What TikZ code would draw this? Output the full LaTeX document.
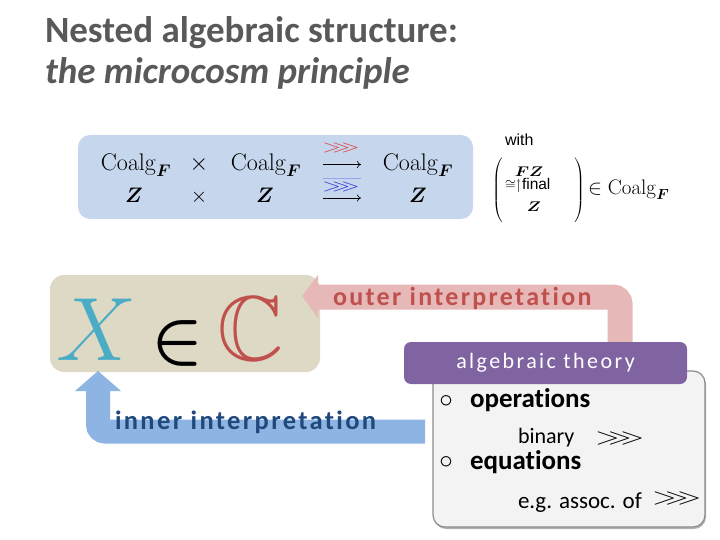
\documentclass[tikz,border=0pt]{standalone}
\usepackage{fix-cm}
\usepackage{amsmath,amssymb,bm}
\usepackage[no-math]{fontspec}
\newfontfamily\carl[Ligatures=NoCommon]{Carlito}
\newfontfamily\carlspa[LetterSpace=9,Ligatures=NoCommon]{Carlito}
\newfontfamily\carlspb[LetterSpace=11,Ligatures=NoCommon]{Carlito}
\newfontfamily\arl{Liberation Sans}
\usetikzlibrary{arrows.meta}
\definecolor{titlegray}{HTML}{595959}
\definecolor{coalgblue}{HTML}{C6D6EC}
\definecolor{tanbox}{HTML}{DDD9C4}
\definecolor{pinkband}{HTML}{E6B9B8}
\definecolor{outerred}{HTML}{C0504D}
\definecolor{blueband}{HTML}{8DB4E2}
\definecolor{innerblue}{HTML}{1F497D}
\definecolor{theorypurple}{HTML}{8064A2}
\definecolor{xteal}{HTML}{4BACC6}
\definecolor{cred}{HTML}{C0504D}
\definecolor{chevred}{HTML}{E03A3A}
\definecolor{chevblue}{HTML}{2B2BD8}
\definecolor{listfill}{HTML}{F3F3F3}
\definecolor{listborder}{HTML}{8C8C8C}
\newcommand{\fsz}[1]{\fontsize{#1}{#1}\selectfont}
\newcommand{\chevs}{$>\mkern-6.8mu>\mkern-6.8mu>$}
\begin{document}
\begin{tikzpicture}[x=1pt,y=-1pt,every node/.style={inner sep=0pt,outer sep=0pt},
  mrow/.style={anchor=base,font=\fsz{24}},
  zrow/.style={anchor=base,font=\fsz{21}},
  marrow/.style={-{To[length=4pt,width=7pt]},line width=0.6pt},
  chevnode/.style={xscale=1.35,font=\fsz{#1}},
  smallmath/.style={font=\fsz{14},xscale=1.2},
  listitem/.style={anchor=base west,font=\carl\bfseries\fsz{27}},
  listsub/.style={anchor=base west,font=\carl\fsz{22}}]
\useasboundingbox (0,0) rectangle (720,540);

% title
\node[anchor=base west,text=titlegray,font=\carl\bfseries\fsz{37}] (title1) at (45,43) {Nested algebraic structure:};
\node[anchor=base west,text=titlegray,font=\carl\bfseries\itshape\fsz{37}] (title2) at (45,84) {the microcosm principle};

% coalgebra box
\node[fill=coalgblue,rounded corners=12pt,minimum width=395pt,minimum height=84pt] (cbox) at (275.5,177) {};
\node[mrow] (c1) at (136,171) {$\mathrm{Coalg}_{\boldsymbol F}$};
\node[mrow] (x1) at (199,171) {$\times$};
\node[mrow] (c2) at (266,171) {$\mathrm{Coalg}_{\boldsymbol F}$};
\node[mrow] (c3) at (418,171) {$\mathrm{Coalg}_{\boldsymbol F}$};
\node[zrow] (z1) at (134,203) {$\boldsymbol Z$};
\node[zrow] (x2) at (199,203) {$\times$};
\node[zrow] (z2) at (265,203) {$\boldsymbol Z$};
\node[zrow] (z3) at (418,203) {$\boldsymbol Z$};
\coordinate (a1s) at (323,164.5);
\coordinate (a1e) at (361,164.5);
\coordinate (a2s) at (323,198);
\coordinate (a2e) at (361,198);
\draw[marrow] (a1s) -- (a1e);
\draw[marrow] (a2s) -- (a2e);
\node[chevnode=18,text=chevred] (ch1) at (341,148) {\chevs};
\node[chevnode=18,text=chevblue] (ch2) at (341,187) {\chevs};
\coordinate (bl1) at (323,178.5);
\coordinate (bl2) at (361,178.5);
\draw[line width=0.5pt,draw=chevblue!45] (bl1) -- (bl2);

% final coalgebra
\node[anchor=base west,font=\arl\fsz{16}] (with) at (505,146) {with};
\node[font=\fsz{12}] (lp) at (498,191) {$\left(\vrule height 31pt depth 31pt width 0pt\right.$};
\node[font=\fsz{12}] (rp) at (579,191) {$\left.\vrule height 31pt depth 31pt width 0pt\right)$};
\node[smallmath] (fz) at (529,172) {$\boldsymbol{FZ}$};
\node[smallmath] (zz) at (534,207) {$\boldsymbol{Z}$};
\node[font=\fsz{14}] (cong) at (510.5,185) {$\cong$};
\coordinate (fa1) at (518.5,192);
\coordinate (fa2) at (518.5,178.5);
\draw[-{Stealth[length=3pt,width=2.5pt]},line width=0.35pt,draw=black!60] (fa1) -- (fa2);
\node[anchor=base west,font=\arl\fsz{15.5}] (final) at (522,190) {final};
\node[anchor=base west,font=\fsz{21}] (mem) at (588,195) {$\in\mathrm{Coalg}_{\boldsymbol F}$};

% element box
\node[fill=tanbox,rounded corners=14pt,minimum width=270pt,minimum height=97pt] (elem) at (185,323.5) {};
\node[anchor=base,text=xteal,font=\fsz{90}] (X) at (97,360) {$X$};
\node[anchor=base,font=\fsz{68}] (in) at (178,360) {$\boldsymbol{\in}$};
\node[anchor=base,text=cred,font=\fsz{24.88},scale=3.7] (C) at (251,360) {$\mathbb{C}$};

% outer interpretation arrow
\coordinate (o1) at (620,352);
\coordinate (o2) at (620,297);
\coordinate (o3) at (316,297);
\draw[line width=25pt,draw=pinkband,rounded corners=7pt] (o1) -- (o2) -- (o3);
\fill[pinkband] (318,275) -- (302,296) -- (318,318) -- cycle;
\node[anchor=base west,text=outerred,font=\carlspa\bfseries\fsz{26}] (outer) at (333,305) {outer interpretation};

% inner interpretation arrow
\coordinate (i1) at (425,431.5);
\coordinate (i2) at (98,431.5);
\coordinate (i3) at (98,389);
\draw[line width=24pt,draw=blueband,rounded corners=7pt] (i1) -- (i2) -- (i3);
\fill[blueband] (75,391) -- (98,371) -- (121,391) -- cycle;
\node[anchor=base west,text=innerblue,font=\carlspa\bfseries\fsz{26.5}] (inner) at (115,429) {inner interpretation};

% list box
\node[fill=black!30,rounded corners=12pt,minimum width=272pt,minimum height=156pt] (listshadow) at (570,451) {};
\node[fill=listfill,draw=listborder,line width=1.2pt,rounded corners=12pt,minimum width=272pt,minimum height=156pt] (list) at (569,449) {};
\node[fill=theorypurple,rounded corners=7pt,minimum width=283pt,minimum height=42pt,text=white,font=\carlspb\fsz{22}] (theory) at (545.5,363) {algebraic theory};

\node[font=\fsz{27}] (b1) at (446,401) {$\circ$};
\node[listitem] (op) at (470,407) {operations};
\node[listsub] (bin) at (518,443) {binary};
\node[chevnode=24,anchor=base west] (chb) at (595,444) {\chevs};
\node[font=\fsz{27}] (b2) at (446,462) {$\circ$};
\node[listitem] (eq) at (470,469) {equations};
\node[listsub,font=\carl\fsz{23}] (eg) at (518,508) {e.g. assoc. of};
\node[chevnode=24,anchor=base west] (che) at (652,504) {\chevs};
\end{tikzpicture}
\end{document}
